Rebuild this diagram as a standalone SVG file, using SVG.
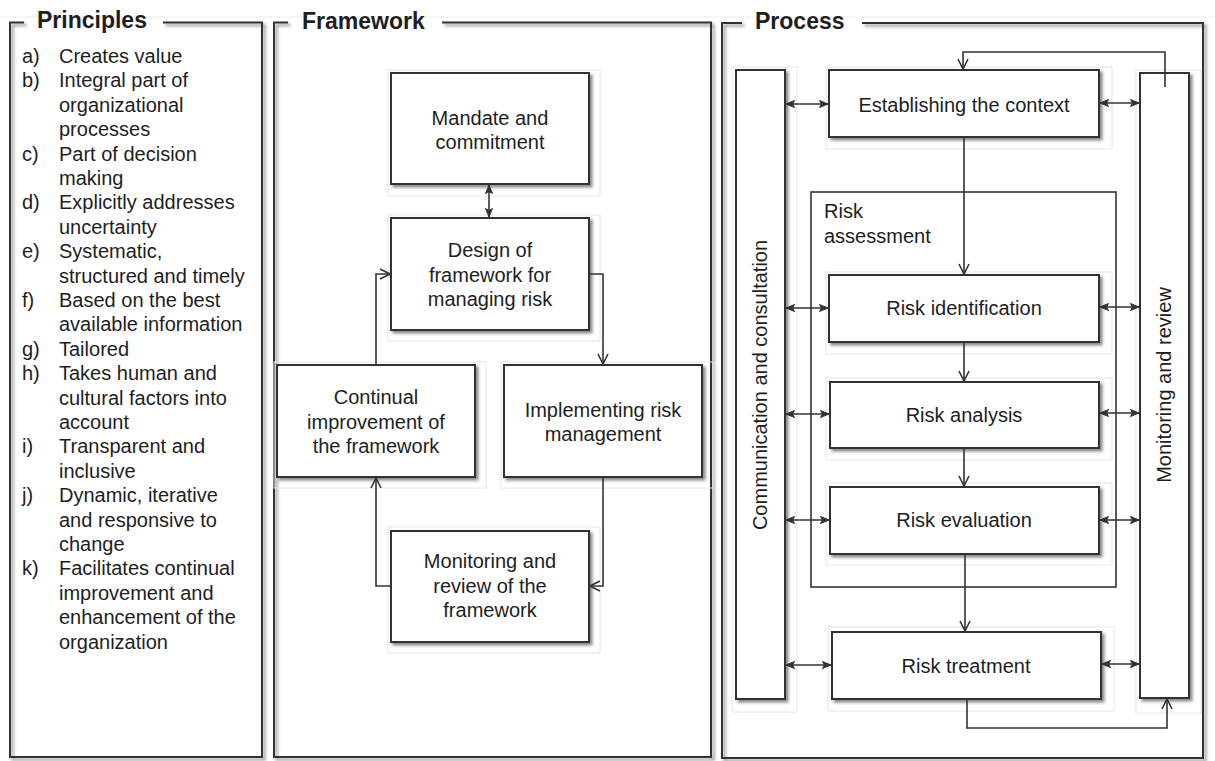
<svg xmlns="http://www.w3.org/2000/svg" width="1215" height="761" viewBox="0 0 1215 761">
<style>
text{font-family:"Liberation Sans",Arial,sans-serif;fill:#1e1e1e}
.t{font-size:20px}
.c{text-anchor:middle}
.h{font-size:23px;font-weight:bold}
.panel{fill:none;stroke:#333;stroke-width:2}
.box{fill:#fff;stroke:#333;stroke-width:2}
.ln{fill:none;stroke:#333;stroke-width:1.6}
.ghost{fill:none;stroke:#e6e6e6;stroke-width:1}
</style>
<defs>
<filter id="sh" x="-10%" y="-10%" width="130%" height="130%">
<feDropShadow dx="2.5" dy="2.5" stdDeviation="1.5" flood-color="#555" flood-opacity="0.7"/>
</filter>
<marker id="ah" viewBox="0 0 12 12" refX="11" refY="6" markerWidth="12" markerHeight="12" markerUnits="userSpaceOnUse" orient="auto-start-reverse">
<path d="M1,1 L11,6 L1,11" fill="none" stroke="#333" stroke-width="1.6"/>
</marker>
<marker id="as" viewBox="0 0 10 10" refX="9.5" refY="5" markerWidth="10" markerHeight="10" markerUnits="userSpaceOnUse" orient="auto-start-reverse">
<path d="M1,1.5 L9.5,5 L1,8.5 L3,5 Z" fill="#333" stroke="#333" stroke-width="1"/>
</marker>
</defs>
<rect width="1215" height="761" fill="#fff"/>
<line x1="0" y1="17" x2="1215" y2="17" stroke="#ececec" stroke-width="1"/>

<g id="principles">
<path class="panel" filter="url(#sh)" d="M24,22.5 H10 V757 H262 V22.5 H163"/>
<text class="h" x="37" y="28">Principles</text>
<g class="t">
<text x="22" y="63">a)</text><text x="59" y="63">Creates value</text>
<text x="22" y="87.4">b)</text><text x="59" y="87.4">Integral part of</text>
<text x="59" y="111.8">organizational</text>
<text x="59" y="136.2">processes</text>
<text x="22" y="160.6">c)</text><text x="59" y="160.6">Part of decision</text>
<text x="59" y="185">making</text>
<text x="22" y="209.4">d)</text><text x="59" y="209.4">Explicitly addresses</text>
<text x="59" y="233.8">uncertainty</text>
<text x="22" y="258.2">e)</text><text x="59" y="258.2">Systematic,</text>
<text x="59" y="282.6">structured and timely</text>
<text x="22" y="307">f)</text><text x="59" y="307">Based on the best</text>
<text x="59" y="331.4">available information</text>
<text x="22" y="355.8">g)</text><text x="59" y="355.8">Tailored</text>
<text x="22" y="380.2">h)</text><text x="59" y="380.2">Takes human and</text>
<text x="59" y="404.6">cultural factors into</text>
<text x="59" y="429">account</text>
<text x="22" y="453.4">i)</text><text x="59" y="453.4">Transparent and</text>
<text x="59" y="477.8">inclusive</text>
<text x="22" y="502.2">j)</text><text x="59" y="502.2">Dynamic, iterative</text>
<text x="59" y="526.6">and responsive to</text>
<text x="59" y="551">change</text>
<text x="22" y="575.4">k)</text><text x="59" y="575.4">Facilitates continual</text>
<text x="59" y="599.8">improvement and</text>
<text x="59" y="624.2">enhancement of the</text>
<text x="59" y="648.6">organization</text>
</g>
</g>

<g id="framework">
<path class="panel" filter="url(#sh)" d="M288,22.5 H274 V757 H711 V22.5 H442"/>
<text class="h" x="302" y="29">Framework</text>
</g>

<g id="process">
<path class="panel" filter="url(#sh)" d="M742,23 H722 V758 H1203 V23 H862"/>
<text class="h" x="755" y="29">Process</text>
</g>

<g id="mandate">
<rect class="ghost" x="388" y="70" width="212" height="126"/>
<rect class="box" filter="url(#sh)" x="391" y="73" width="198" height="111"/>
<text class="t c" x="490" y="125">Mandate and</text>
<text class="t c" x="490" y="149">commitment</text>
</g>
<g id="design">
<rect class="ghost" x="388" y="215" width="212" height="126"/>
<rect class="box" filter="url(#sh)" x="391" y="218" width="198" height="112"/>
<text class="t c" x="490" y="257">Design of</text>
<text class="t c" x="490" y="281.5">framework for</text>
<text class="t c" x="490" y="306">managing risk</text>
</g>
<g id="continual">
<rect class="ghost" x="274" y="362" width="212" height="126"/>
<rect class="box" filter="url(#sh)" x="277" y="365" width="198" height="112"/>
<text class="t c" x="376" y="404">Continual</text>
<text class="t c" x="376" y="428.5">improvement of</text>
<text class="t c" x="376" y="453">the framework</text>
</g>
<g id="implementing">
<rect class="ghost" x="501" y="362" width="212" height="126"/>
<rect class="box" filter="url(#sh)" x="504" y="365" width="198" height="112"/>
<text class="t c" x="603" y="417">Implementing risk</text>
<text class="t c" x="603" y="441">management</text>
</g>
<g id="monitoring-fw">
<rect class="ghost" x="388" y="527" width="212" height="126"/>
<rect class="box" filter="url(#sh)" x="391" y="531" width="198" height="111"/>
<text class="t c" x="490" y="568">Monitoring and</text>
<text class="t c" x="490" y="592.5">review of the</text>
<text class="t c" x="490" y="617">framework</text>
</g>

<g id="communication">
<rect class="ghost" x="732" y="67" width="65" height="645"/>
<rect class="box" filter="url(#sh)" x="736" y="70" width="49" height="629"/>
<text class="t c" transform="translate(767,385) rotate(-90)">Communication and consultation</text>
</g>
<g id="monitoring">
<rect class="ghost" x="1136" y="70" width="65" height="643"/>
<rect class="box" filter="url(#sh)" x="1140" y="73" width="49" height="625"/>
<text class="t c" transform="translate(1171,385) rotate(-90)">Monitoring and review</text>
</g>
<g id="context">
<rect class="ghost" x="826" y="67" width="286" height="82"/>
<rect class="box" filter="url(#sh)" x="829" y="70" width="270" height="67"/>
<text class="t c" x="964" y="112">Establishing the context</text>
</g>
<g id="assessment">
<rect fill="none" stroke="#333" stroke-width="1.6" x="811" y="192" width="305" height="395"/>
<text class="t" x="824" y="218">Risk</text>
<text class="t" x="824" y="243">assessment</text>
</g>
<g id="identification">
<rect class="ghost" x="826" y="272" width="286" height="82"/>
<rect class="box" filter="url(#sh)" x="829" y="275" width="270" height="67"/>
<text class="t c" x="964" y="315">Risk identification</text>
</g>
<g id="analysis">
<rect class="ghost" x="826" y="378" width="286" height="82"/>
<rect class="box" filter="url(#sh)" x="830" y="382" width="269" height="66"/>
<text class="t c" x="964" y="422">Risk analysis</text>
</g>
<g id="evaluation">
<rect class="ghost" x="826" y="483" width="286" height="82"/>
<rect class="box" filter="url(#sh)" x="830" y="487" width="269" height="67"/>
<text class="t c" x="964" y="527">Risk evaluation</text>
</g>
<g id="treatment">
<rect class="ghost" x="828" y="627" width="286" height="84"/>
<rect class="box" filter="url(#sh)" x="832" y="632" width="269" height="67"/>
<text class="t c" x="966" y="673">Risk treatment</text>
</g>

<g id="connectors">
<line class="ln" x1="489" y1="185" x2="489" y2="217" marker-start="url(#as)" marker-end="url(#as)"/>
<path class="ln" d="M376,365 V274 H390" marker-end="url(#ah)"/>
<path class="ln" d="M589,274 H603 V364" marker-end="url(#ah)"/>
<path class="ln" d="M603,477 V586 H590" marker-end="url(#ah)"/>
<path class="ln" d="M391,586 H376 V478" marker-end="url(#ah)"/>

<path class="ln" d="M1165,87 V52 H963 V69" marker-end="url(#ah)"/>
<line class="ln" x1="964" y1="137" x2="964" y2="274" marker-end="url(#ah)"/>
<line class="ln" x1="964" y1="342" x2="964" y2="381" marker-end="url(#ah)"/>
<line class="ln" x1="964" y1="448" x2="964" y2="486" marker-end="url(#ah)"/>
<line class="ln" x1="965" y1="554" x2="965" y2="631" marker-end="url(#ah)"/>
<path class="ln" d="M967,699 V728 H1167 V699" marker-end="url(#ah)"/>

<line class="ln" x1="786" y1="104" x2="828" y2="104" marker-start="url(#as)" marker-end="url(#as)"/>
<line class="ln" x1="1100" y1="103" x2="1139" y2="103" marker-start="url(#as)" marker-end="url(#as)"/>
<line class="ln" x1="786" y1="308" x2="828" y2="308" marker-start="url(#as)" marker-end="url(#as)"/>
<line class="ln" x1="1100" y1="307" x2="1139" y2="307" marker-start="url(#as)" marker-end="url(#as)"/>
<line class="ln" x1="786" y1="414" x2="829" y2="414" marker-start="url(#as)" marker-end="url(#as)"/>
<line class="ln" x1="1100" y1="413" x2="1139" y2="413" marker-start="url(#as)" marker-end="url(#as)"/>
<line class="ln" x1="786" y1="520" x2="829" y2="520" marker-start="url(#as)" marker-end="url(#as)"/>
<line class="ln" x1="1100" y1="520" x2="1139" y2="520" marker-start="url(#as)" marker-end="url(#as)"/>
<line class="ln" x1="786" y1="665" x2="831" y2="665" marker-start="url(#as)" marker-end="url(#as)"/>
<line class="ln" x1="1102" y1="664" x2="1139" y2="664" marker-start="url(#as)" marker-end="url(#as)"/>
</g>
</svg>
